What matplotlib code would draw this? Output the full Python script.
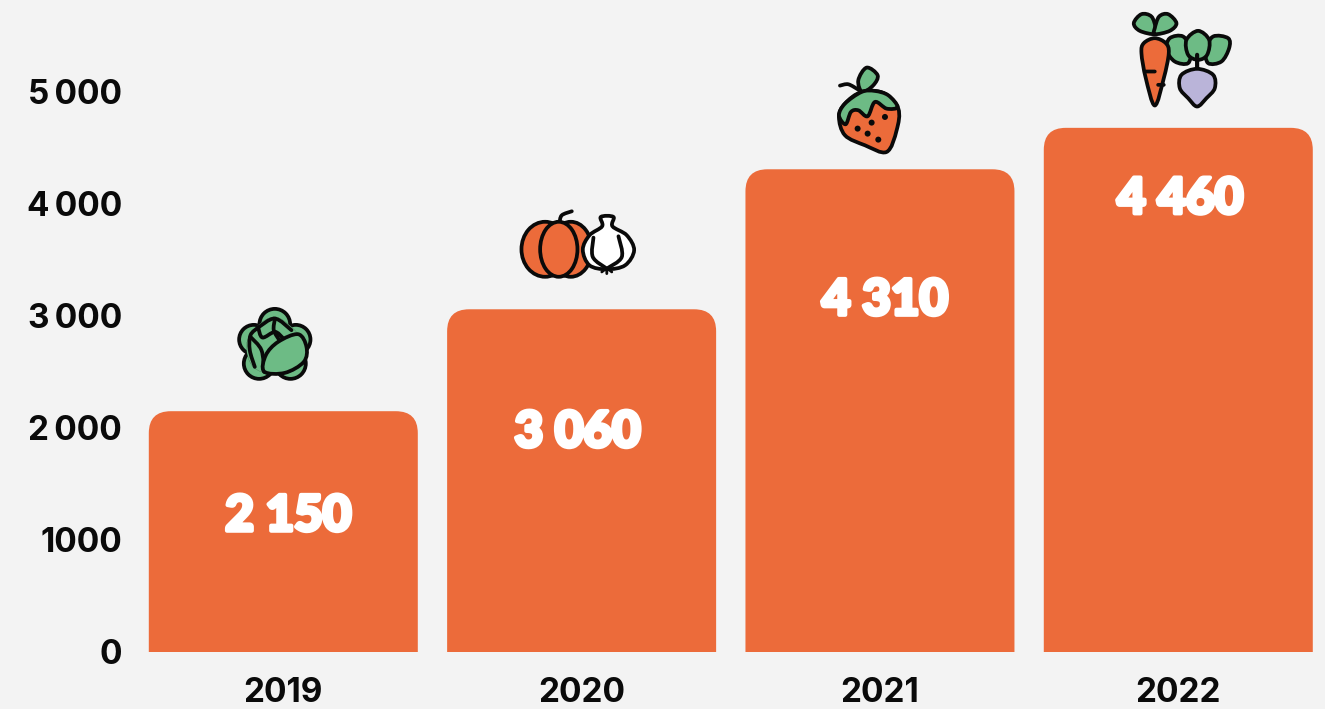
import numpy as np
import matplotlib
matplotlib.use("Agg")
import matplotlib.pyplot as plt
import matplotlib.patheffects as pe
from matplotlib.path import Path
from matplotlib.patches import PathPatch, Circle, Ellipse
from matplotlib.transforms import Affine2D, ScaledTranslation

years = ["2019", "2020", "2021", "2022"]
bar_heights = [2150, 3060, 4310, 4680]
bar_labels = ["2 150", "3 060", "4 310", "4 460"]
y_ticks = [0, 1000, 2000, 3000, 4000, 5000]
y_tick_labels = ["0", "1000", "2\u2009000", "3\u2009000", "4\u2009000", "5\u2009000"]

BG = "#F3F3F3"
ORANGE = "#EC6B3A"
GREEN = "#6DBB85"
LAV = "#BAB4D9"
INK = "#0A0A0A"
TICK_FONT = ["Inter", "DejaVu Sans"]
VAL_FONT = ["Lato", "DejaVu Sans"]

fig = plt.figure(figsize=(13.25, 7.09), dpi=100, facecolor=BG)
ax = fig.add_axes([135 / 1325, 57 / 709, 1190 / 1325, 652 / 709], facecolor=BG)
step = 298.33
ax.set_xlim((135 - 283.3) / step, (1325 - 283.3) / step)
ax.set_ylim(0, 652 / 112 * 1000)
for s in ax.spines.values():
    s.set_visible(False)
W = 269 / step
RX, RY = 22 / step, 22 / 112 * 1000


def rounded_bar(x, h):
    l, r = x - W / 2, x + W / 2
    v = [(l, 0), (l, h - RY), (l, h), (l + RX, h), (r - RX, h), (r, h), (r, h - RY), (r, 0), (l, 0)]
    c = [Path.MOVETO, Path.LINETO, Path.CURVE3, Path.CURVE3, Path.LINETO, Path.CURVE3, Path.CURVE3, Path.LINETO, Path.CLOSEPOLY]
    return PathPatch(Path(v, c), fc=ORANGE, ec="none", zorder=2)


for i, h in enumerate(bar_heights):
    ax.add_patch(rounded_bar(i, h))

ax.set_xticks(range(4), years, fontfamily=TICK_FONT, fontweight="bold", fontsize=24, color=INK)
ax.set_yticks(y_ticks, y_tick_labels, fontfamily=TICK_FONT, fontweight="bold", fontsize=24, color=INK)
ax.tick_params(axis="both", length=0)
ax.tick_params(axis="x", pad=18)
ax.tick_params(axis="y", pad=9.5)

# value labels: offsets from each bar top, in pixels
val_dx = [5, -4, 5, 2]
val_dy = [-105, -123, -131, -71]
for i, h in enumerate(bar_heights):
    t = ax.annotate(bar_labels[i], (i, h), xytext=(val_dx[i] * .72, val_dy[i] * .72), textcoords="offset points",
                    ha="center", va="center", color="white", fontsize=35.5, fontweight="black",
                    fontfamily=VAL_FONT, zorder=3)
    t.set_path_effects([pe.withStroke(linewidth=3, foreground="white")])


def smooth(pts, closed=True):
    p = np.array(pts, float)
    n = len(p)
    v = [tuple(p[0])]
    c = [Path.MOVETO]
    segs = n if closed else n - 1
    for k in range(segs):
        p0 = p[(k - 1) % n] if (closed or k > 0) else p[k]
        p1, p2 = p[k], p[(k + 1) % n]
        p3 = p[(k + 2) % n] if (closed or k + 2 < n) else p2
        v += [tuple(p1 + (p2 - p0) / 6), tuple(p2 - (p3 - p1) / 6), tuple(p2)]
        c += [Path.CURVE4] * 3
    if closed:
        v.append(tuple(p[0]))
        c.append(Path.CLOSEPOLY)
    return Path(v, c)


class Icon:
    """Decoration traced in crop pixels (3x), anchored to the top of a bar."""

    def __init__(self, bar, ox, oy):
        self.tr = (Affine2D().scale(1 / 3, -1 / 3).translate(ox, -oy)
                   + ScaledTranslation(bar, bar_heights[bar], ax.transData))
        self.z = 5

    def _add(self, patch):
        patch.set_transform(self.tr)
        patch.set_clip_on(False)
        patch.set_zorder(self.z)
        self.z += 0.01
        ax.add_artist(patch)

    def blob(self, pts, fc, lw=2.7):
        self._add(PathPatch(smooth(pts), fc=fc, ec=INK, lw=lw, joinstyle="round"))

    def line(self, pts, lw=2.7):
        self._add(PathPatch(smooth(pts, closed=False), fc="none", ec=INK, lw=lw, capstyle="round"))

    def circle(self, x, y, r, fc, lw=2.7):
        self._add(Circle((x, y), r, fc=fc, ec=INK, lw=lw))

    def ell(self, x, y, w, h, fc, lw=2.7):
        self._add(Ellipse((x, y), w, h, fc=fc, ec=INK, lw=lw))

    def dot(self, x, y, r):
        self._add(Circle((x, y), r, fc=INK, ec="none"))


# cabbage: crop origin (230, 300), bar 0 centre x 283.5, top y 411
ic = Icon(0, 230 - 283.5, 300 - 411)
for c in [(135, 72, 46), (72, 118, 44), (198, 118, 44), (88, 190, 46), (182, 190, 46)]:
    ic.circle(c[0], c[1], c[2], GREEN)
ic.blob([(135, 50), (190, 85), (222, 135), (205, 195), (135, 222), (70, 200), (50, 135), (80, 80)], GREEN, lw=0.1)
ic.line([(85, 82), (62, 105), (60, 150), (75, 200)])
ic.line([(62, 110), (95, 150), (103, 215)])
ic.line([(85, 82), (135, 55), (185, 90)])
ic.line([(85, 82), (98, 112), (135, 95), (158, 112)])
ic.line([(135, 58), (132, 90), (150, 122)])
ic.blob([(103, 214), (108, 165), (145, 125), (205, 102), (230, 140), (222, 185), (165, 218)], GREEN)

# pumpkin and garlic: crop origin (510, 200), bar 1 centre x 581.5, top y 309
ic = Icon(1, 510 - 581.5, 200 - 309)
ic.line([(148, 68), (155, 45), (185, 33)])
ic.ell(105, 147, 142, 165, ORANGE)
ic.ell(182, 147, 126, 165, ORANGE)
ic.ell(146, 147, 112, 165, ORANGE)
ic.line([(275, 215), (290, 205), (305, 215)], lw=2)
ic.line([(290, 205), (290, 220)], lw=2)
ic.blob([(272, 50), (310, 50), (307, 78), (350, 105), (372, 150), (345, 195), (290, 207), (238, 195), (218, 148), (238, 105), (276, 78)], "white")
ic.line([(250, 112), (248, 170), (290, 205)])
ic.line([(325, 108), (335, 170), (290, 205)])

# carrot and beet: crop origin (1120, 5), bar 3 centre x 1178.5, top y 128
ic = Icon(3, 1120 - 1178.5, 5 - 128)
ic.blob([(150, 100), (190, 95), (212, 135), (205, 175), (165, 170), (140, 135)], GREEN)
ic.blob([(325, 100), (280, 95), (258, 135), (265, 175), (305, 170), (328, 130)], GREEN)
ic.blob([(235, 78), (268, 105), (262, 150), (235, 165), (205, 150), (200, 105)], GREEN)
ic.line([(232, 150), (232, 190)], lw=3)
ic.blob([(232, 192), (185, 210), (180, 250), (205, 280), (232, 305), (260, 280), (285, 250), (280, 210)], LAV)
ic.blob([(105, 88), (60, 78), (42, 55), (65, 28), (95, 35), (108, 70)], GREEN)
ic.blob([(105, 88), (150, 78), (170, 55), (145, 28), (118, 35), (105, 70)], GREEN)
ic.blob([(105, 100), (72, 115), (65, 145), (78, 220), (105, 302), (132, 220), (147, 145), (138, 115)], ORANGE)
ic.line([(78, 200), (105, 200)])
ic.line([(115, 240), (132, 240)])

# strawberry: crop origin (825, 60), bar 2 centre x 880, top y 169
ic = Icon(2, 825 - 880, 60 - 169)
ic.line([(45, 76), (70, 72), (100, 88)])
ic.blob([(125, 22), (158, 45), (145, 75), (112, 95), (100, 60)], GREEN)
ic.blob([(110, 95), (60, 130), (42, 170), (60, 225), (120, 255), (185, 275), (215, 210), (220, 145), (175, 98)], ORANGE)
ic.blob([(110, 95), (60, 130), (42, 165), (62, 192), (78, 155), (100, 150), (128, 168), (150, 125), (185, 145), (218, 140), (190, 105), (150, 92)], GREEN)
for d in [(180, 170), (140, 187), (98, 205), (128, 220), (160, 238)]:
    ic.dot(d[0], d[1], 9)

fig.savefig("out.png", dpi=100, facecolor=BG)
